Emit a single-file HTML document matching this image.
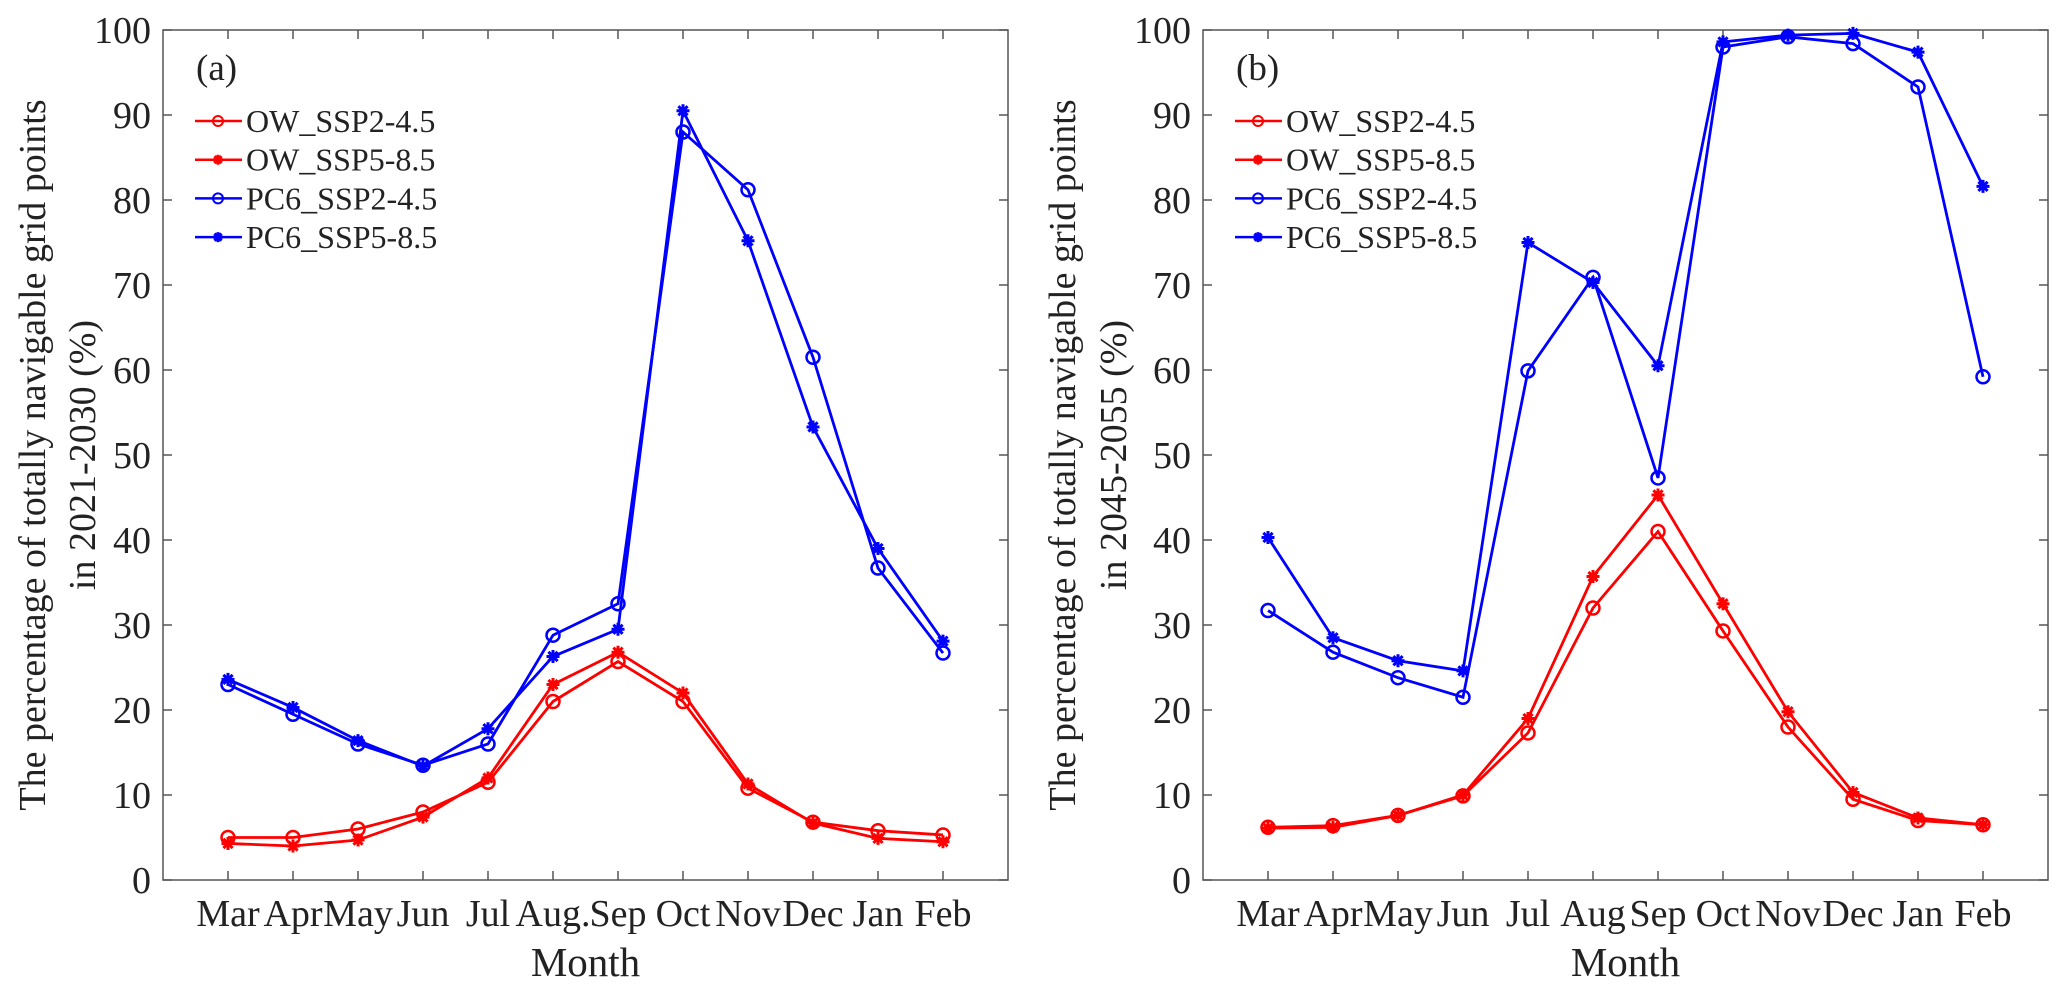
<!DOCTYPE html>
<html><head><meta charset="utf-8"><style>
html,body{margin:0;padding:0;background:#fff;}
svg, svg text{font-family:"Liberation Serif","DejaVu Serif",serif;}
</style></head><body>
<svg id="chart" width="2067" height="993" viewBox="0 0 2067 993" xmlns="http://www.w3.org/2000/svg"></svg>
<script>
const monthsA = ["Mar","Apr","May","Jun","Jul","Aug.","Sep","Oct","Nov","Dec","Jan","Feb"];
const monthsB = ["Mar","Apr","May","Jun","Jul","Aug","Sep","Oct","Nov","Dec","Jan","Feb"];
const yTicks = [0,10,20,30,40,50,60,70,80,90,100];
const seriesNames = ["OW_SSP2-4.5","OW_SSP5-8.5","PC6_SSP2-4.5","PC6_SSP5-8.5"];
const a_ow245 = [5.0,5.0,6.0,8.0,11.5,21,25.7,21,10.8,6.8,5.8,5.3];
const a_ow585 = [4.3,4.0,4.7,7.4,12,23,26.8,22,11.3,6.7,4.9,4.5];
const a_pc245 = [23,19.5,16,13.5,16,28.8,32.5,88,81.2,61.5,36.7,26.7];
const a_pc585 = [23.6,20.3,16.4,13.4,17.8,26.3,29.5,90.5,75.2,53.3,39,28.1];
const b_ow245 = [6.2,6.4,7.6,9.9,17.3,32,41,29.3,18,9.5,7,6.5];
const b_ow585 = [6.1,6.2,7.6,10,19,35.7,45.3,32.5,19.8,10.3,7.3,6.5];
const b_pc245 = [31.7,26.8,23.8,21.5,59.9,70.9,47.3,98,99.2,98.4,93.3,59.2];
const b_pc585 = [40.3,28.5,25.8,24.6,75,70.3,60.5,98.6,99.4,99.6,97.4,81.6];

const NS="http://www.w3.org/2000/svg";
const FF='"Liberation Serif", "DejaVu Serif", serif';
const svg=document.getElementById('chart');
function el(tag,attrs,parent){const e=document.createElementNS(NS,tag);for(const k in attrs)e.setAttribute(k,attrs[k]);if(tag==='text')e.setAttribute('font-family',FF);(parent||svg).appendChild(e);return e;}

function star(cx,cy,r,color,parent){
  const d=[];
  for(let a=0;a<4;a++){const t=a*Math.PI/4;d.push(`M${cx-r*Math.cos(t)},${cy-r*Math.sin(t)}L${cx+r*Math.cos(t)},${cy+r*Math.sin(t)}`);}
  return el('path',{d:d.join(''),stroke:color,'stroke-width':3,fill:'none'},parent);
}

function panel(id,x0,months,data,tag,label1,label2,lx1,lx2){
  const g=el('g',{});
  
  
  const top=30,bot=880,w=845;
  const xs=i=>x0+(i+1)*w/13;
  const ys=v=>bot-(v/100)*(bot-top);
  const box=el('rect',{x:x0,y:top,width:w,height:bot-top,fill:'none',stroke:'#555','stroke-width':1.5},g);
  
  
  yTicks.forEach(t=>{
    const y=ys(t);
    el('line',{x1:x0,x2:x0+9,y1:y,y2:y,stroke:'#555','stroke-width':1.5},g);
    el('line',{x1:x0+w,x2:x0+w-9,y1:y,y2:y,stroke:'#555','stroke-width':1.5},g);
    const tx=el('text',{x:x0-12,y:y+13,'text-anchor':'end','font-size':38,fill:'#222'},g);
    tx.textContent=t;
    
    
  });
  months.forEach((m,i)=>{
    const x=xs(i);
    el('line',{x1:x,x2:x,y1:bot,y2:bot-9,stroke:'#555','stroke-width':1.5},g);
    el('line',{x1:x,x2:x,y1:top,y2:top+9,stroke:'#555','stroke-width':1.5},g);
    const tx=el('text',{x:x,y:926,'text-anchor':'middle','font-size':38,fill:'#222'},g);
    tx.textContent=m;
    
    
  });
  const xt=el('text',{x:x0+w/2,y:976,'text-anchor':'middle','font-size':41,fill:'#222'},g);
  xt.textContent='Month';
  
  
  [[label1,lx1],[label2,lx2]].forEach(([t,lx])=>{
    const yt=el('text',{x:0,y:0,'text-anchor':'middle','font-size':38,fill:'#222',transform:`translate(${lx+13},455) rotate(-90)`},g);
    yt.textContent=t;
    
    
  });
  const colors=['#ff0000','#ff0000','#0000ff','#0000ff'];
  const markers=['o','*','o','*'];
  data.forEach((s,k)=>{
    const sg=el('g',{},g);
    
    
    const pts=s.map((v,i)=>xs(i)+','+ys(v)).join(' ');
    el('polyline',{points:pts,fill:'none',stroke:colors[k],'stroke-width':2.8},sg);
    s.forEach((v,i)=>{
      let m;
      if(markers[k]==='o') m=el('circle',{cx:xs(i),cy:ys(v),r:6.5,fill:'none',stroke:colors[k],'stroke-width':2.5},sg);
      else m=star(xs(i),ys(v),6.5,colors[k],sg);
      
      
    });
  });
  const tg=el('text',{x:x0+33,y:80,'font-size':37,fill:'#222'},g);
  tg.textContent=tag;
  
  
  const lg=el('g',{},g);
  
  
  seriesNames.forEach((n,k)=>{
    const y=121+k*38.7;
    const eg=el('g',{},lg);
    
    
    el('line',{x1:x0+32,x2:x0+79,y1:y,y2:y,stroke:colors[k],'stroke-width':2.5},eg);
    if(markers[k]==='o') el('circle',{cx:x0+55,cy:y,r:5,fill:'none',stroke:colors[k],'stroke-width':2},eg);
    else star(x0+55,y,5,colors[k],eg);
    const t=el('text',{x:x0+83,y:y+11,'font-size':32,fill:'#222'},eg);
    t.textContent=n;
  });
}
panel('a',163,monthsA,[a_ow245,a_ow585,a_pc245,a_pc585],'(a)','The percentage of totally navigable grid points','in 2021-2030 (%)',32,82);
panel('b',1203,monthsB,[b_ow245,b_ow585,b_pc245,b_pc585],'(b)','The  percentage of totally navigable grid points','in 2045-2055 (%)',1062,1113);
</script>
</body></html>
